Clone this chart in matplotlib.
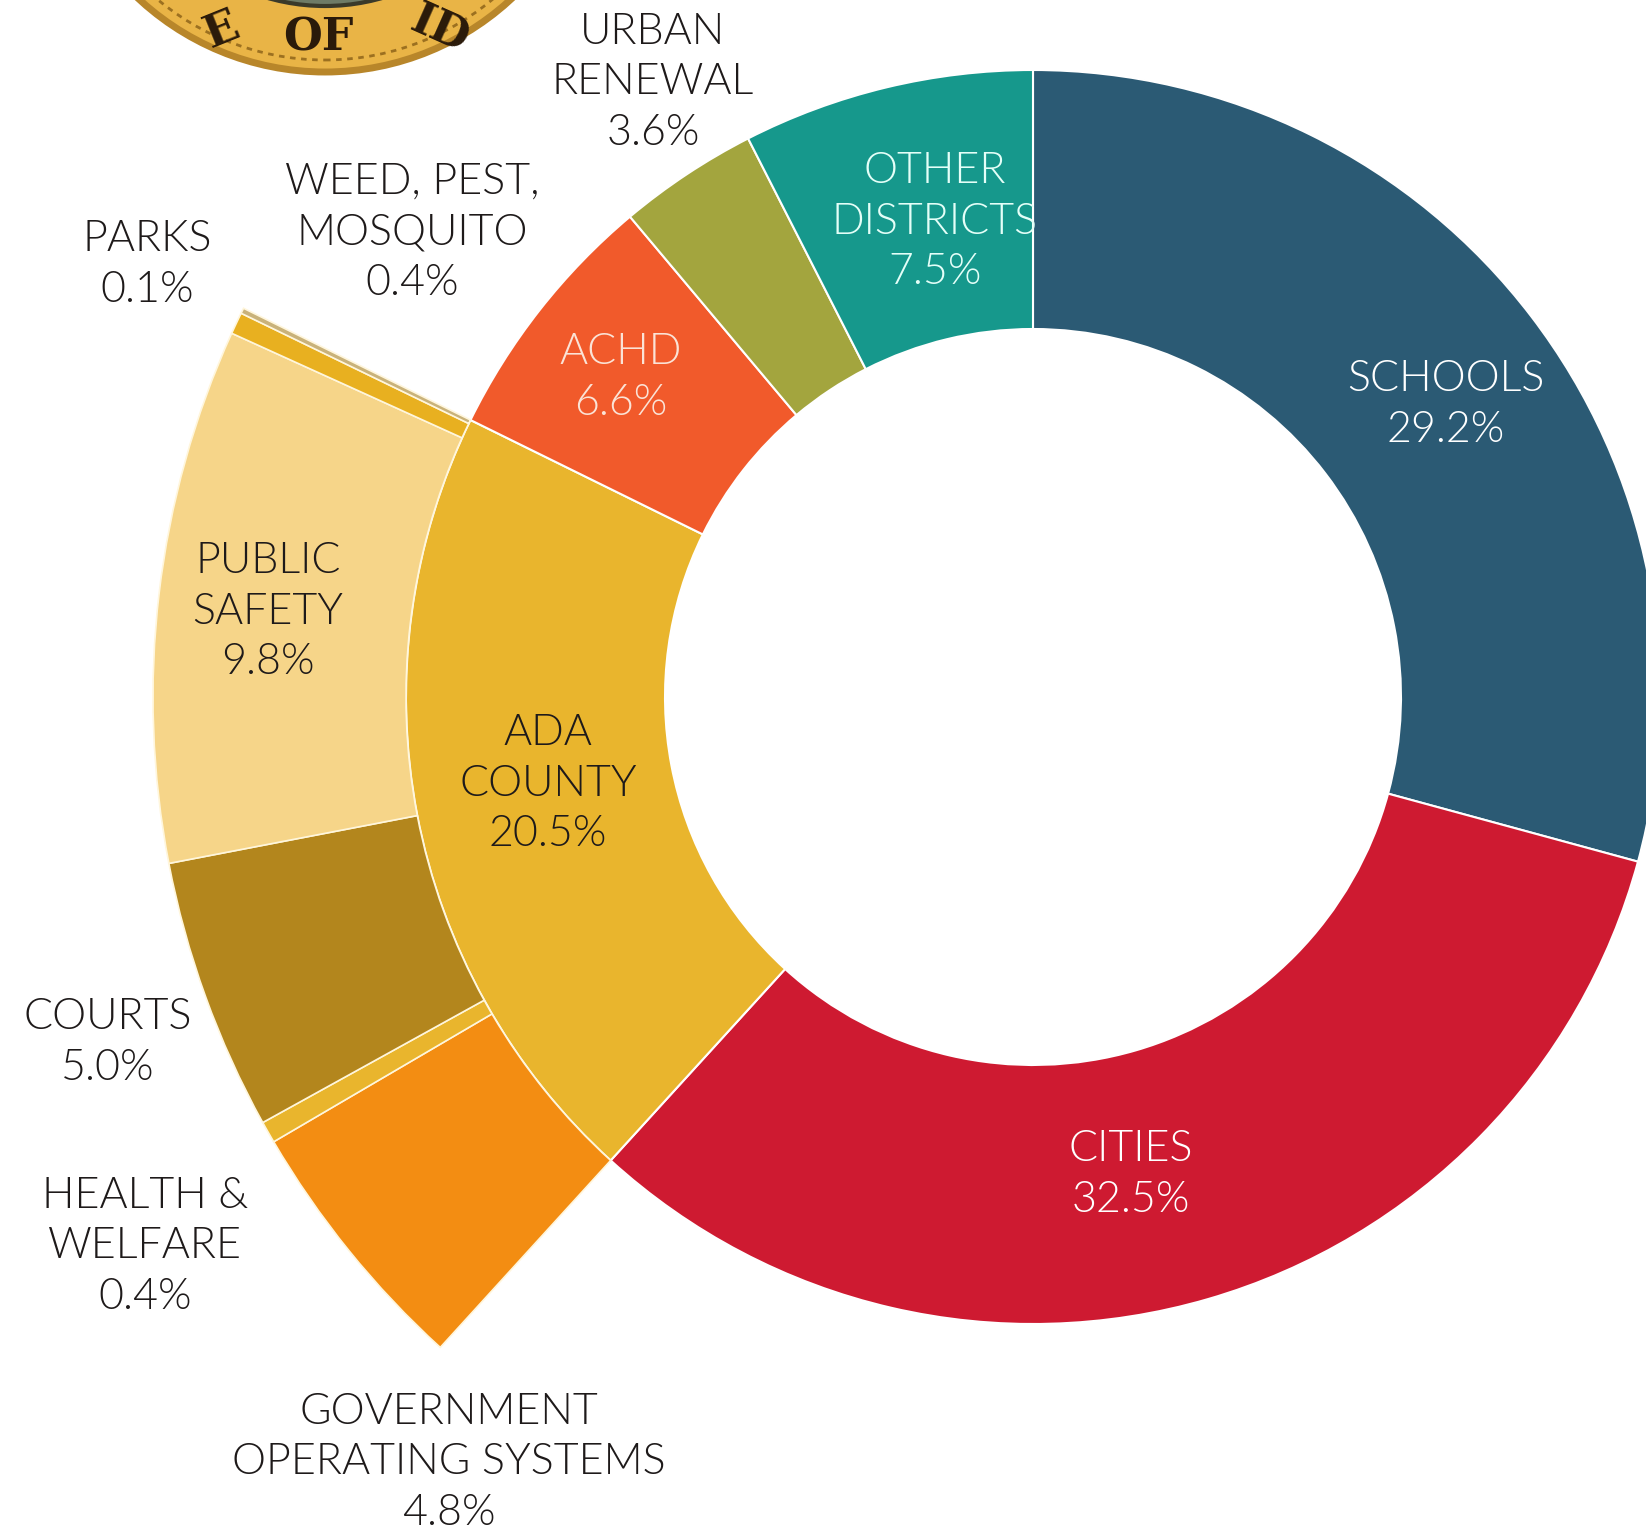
import matplotlib.pyplot as plt
from matplotlib.patches import Circle

# Main ring, clockwise from 12 o'clock
main_labels = ["SCHOOLS\n29.2%", "CITIES\n32.5%", "ADA\nCOUNTY\n20.5%", "ACHD\n6.6%",
               "URBAN\nRENEWAL\n3.6%", "OTHER\nDISTRICTS\n7.5%"]
main_values = [29.2, 32.5, 20.5, 6.6, 3.6, 7.5]
main_colors = ["#2B5A74", "#CE1A31", "#E9B52D", "#F15A2B", "#A3A53E", "#16988C"]

# Ada County breakdown (outer ring), clockwise after Cities
ada_labels = ["GOVERNMENT\nOPERATING SYSTEMS\n4.8%", "HEALTH &\nWELFARE\n0.4%", "COURTS\n5.0%",
              "PUBLIC\nSAFETY\n9.8%", "WEED, PEST,\nMOSQUITO\n0.4%", "PARKS\n0.1%"]
ada_values = [4.8, 0.4, 5.0, 9.8, 0.4, 0.1]
ada_colors = ["#F38D12", "#E9B52D", "#B3861D", "#F6D589", "#E8B020", "#C9B27A"]

W, H = 1646, 1538
fig = plt.figure(figsize=(W / 100, H / 100), dpi=100)
ax = fig.add_axes([0, 0, 1, 1])

cx, cy = 1033, H - 697
r_out, r_in, r_ada = 627, 368, 880

# inner donut
ax.pie(main_values, radius=r_out, center=(cx, cy), startangle=90, counterclock=False,
       colors=main_colors, wedgeprops=dict(width=r_out - r_in, edgecolor='white', linewidth=1.5),
       frame=True)

# outer ring: pad with invisible parts before and after Ada County
total = sum(main_values)
before = main_values[0] + main_values[1]
after = total - before - sum(ada_values)
wedges, _ = ax.pie([before] + ada_values + [after], radius=r_ada, center=(cx, cy),
                   startangle=90, counterclock=False,
                   colors=["white"] + ada_colors + ["white"],
                   wedgeprops=dict(width=r_ada - r_out, edgecolor='#FFF6DC', linewidth=1.2),
                   frame=True)
wedges[0].set_visible(False)
wedges[-1].set_visible(False)

ax.set_xlim(0, W)
ax.set_ylim(0, H)
ax.set_aspect('equal')
ax.axis('off')

# seal in top-left corner (partly cut off)
sx, sy = 325, H + 202
ax.add_patch(Circle((sx, sy), 274, facecolor='#E9B446', edgecolor='#B8862A', linewidth=5))
ax.add_patch(Circle((sx, sy), 262, facecolor='none', edgecolor='#9C7020', linewidth=2,
                    linestyle=(0, (2, 2))))
ax.add_patch(Circle((sx, sy), 208, facecolor='#6E7B66', edgecolor='#3A3A2A', linewidth=3))
for txt, x, y, rot in [("E", 222, 30, 22), ("OF", 318, 38, 0), ("ID", 440, 30, -24)]:
    ax.text(x, H - y, txt, fontsize=32, family='DejaVu Serif', weight='bold',
            color='#2A1A0A', ha='center', va='center', rotation=rot)

fs = 31
dark = '#1E1A1A'
labels = [
    ("SCHOOLS\n29.2%", 1446, 405, 'white'),
    ("CITIES\n32.5%", 1131, 1175, 'white'),
    ("ADA\nCOUNTY\n20.5%", 548, 784, dark),
    ("ACHD\n6.6%", 621, 378, '#FBE3D6'),
    ("URBAN\nRENEWAL\n3.6%", 653, 83, dark),
    ("OTHER\nDISTRICTS\n7.5%", 935, 222, '#E4FFF8'),
    ("GOVERNMENT\nOPERATING SYSTEMS\n4.8%", 449, 1463, dark),
    ("HEALTH &\nWELFARE\n0.4%", 145, 1247, dark),
    ("COURTS\n5.0%", 108, 1043, dark),
    ("PUBLIC\nSAFETY\n9.8%", 268, 612, dark),
    ("WEED, PEST,\nMOSQUITO\n0.4%", 412, 233, dark),
    ("PARKS\n0.1%", 147, 265, dark),
]
for txt, x, y, c in labels:
    ax.text(x, H - y, txt, fontsize=fs, color=c, ha='center', va='center',
            linespacing=1.38, family=['Lato', 'DejaVu Sans'], weight=300)

fig.savefig("out.png", dpi=100)
